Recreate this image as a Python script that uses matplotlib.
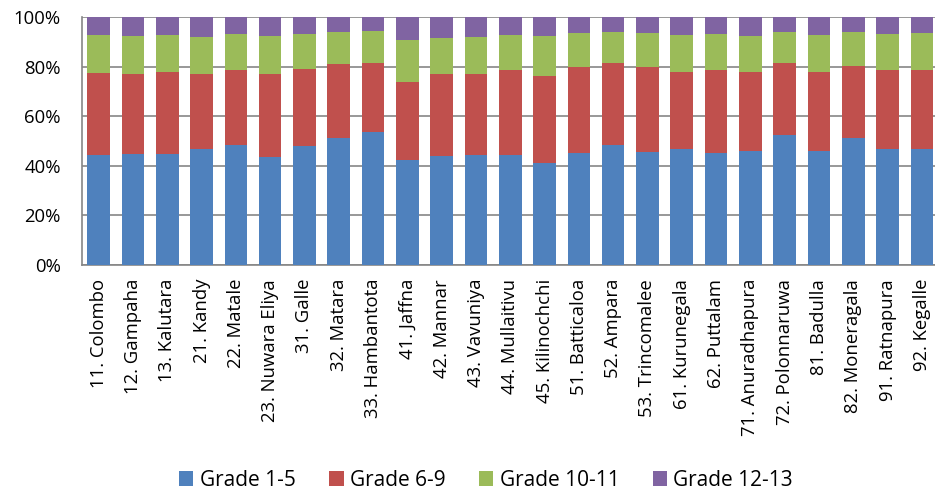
import matplotlib
matplotlib.use("Agg")
import matplotlib.pyplot as plt
import numpy as np

plt.rcParams['font.family'] = ['Open Sans', 'DejaVu Sans']

districts = ["11. Colombo", "12. Gampaha", "13. Kalutara", "21. Kandy", "22. Matale",
             "23. Nuwara Eliya", "31. Galle", "32. Matara", "33. Hambantota", "41. Jaffna",
             "42. Mannar", "43. Vavuniya", "44. Mullaitivu", "45. Kilinochchi", "51. Batticaloa",
             "52. Ampara", "53. Trincomalee", "61. Kurunegala", "62. Puttalam", "71. Anuradhapura",
             "72. Polonnaruwa", "81. Badulla", "82. Moneragala", "91. Ratnapura", "92. Kegalle"]

grade_1_5 = [44.3, 44.7, 44.7, 46.8, 48.4, 43.7, 47.9, 51.4, 53.6, 42.3,
             44.1, 44.3, 44.3, 41.0, 45.1, 48.3, 45.5, 46.8, 45.2, 46.2,
             52.3, 46.0, 51.1, 47.0, 47.0]
grade_6_9 = [33.2, 32.4, 33.3, 30.4, 30.5, 33.5, 31.2, 29.9, 28.1, 31.7,
             33.1, 32.8, 34.6, 35.3, 34.7, 33.1, 34.5, 31.2, 33.7, 31.8,
             29.4, 32.0, 29.4, 31.9, 31.9]
grade_10_11 = [15.4, 15.4, 14.9, 14.8, 14.2, 15.4, 14.3, 12.9, 12.8, 17.0,
               14.3, 14.9, 14.0, 16.3, 14.0, 12.5, 13.7, 14.7, 14.4, 14.4,
               12.5, 14.9, 13.4, 14.2, 14.8]
grade_12_13 = [7.1, 7.5, 7.1, 8.0, 6.9, 7.4, 6.6, 5.8, 5.5, 9.0,
               8.5, 8.0, 7.1, 7.4, 6.2, 6.1, 6.3, 7.3, 6.7, 7.6,
               5.8, 7.1, 6.1, 6.9, 6.3]

series = [("Grade 1-5", grade_1_5, "#4F81BD"),
          ("Grade 6-9", grade_6_9, "#C0504D"),
          ("Grade 10-11", grade_10_11, "#9BBB59"),
          ("Grade 12-13", grade_12_13, "#8064A2")]

fig = plt.figure(figsize=(9.35, 4.92), dpi=100)
ax = fig.add_axes([81.5 / 935, (492 - 265) / 492, (939 - 81.5) / 935, 247.7 / 492])

x = np.arange(len(districts))
bottom = np.zeros(len(districts))
for name, vals, col in series:
    v = np.array(vals)
    ax.bar(x, v, 0.66, bottom=bottom, color=col, label=name, zorder=3)
    bottom += v

ax.set_xlim(-0.5, len(districts) - 0.5)
ax.set_ylim(0, 100)
ax.set_yticks(np.arange(0, 101, 20))
ax.set_yticklabels([f"{t}%" for t in range(0, 101, 20)], fontsize=13.3)
ax.set_xticks(x)
ax.set_xticklabels(districts, rotation=90, fontsize=13.3)
ax.tick_params(axis='x', length=0, pad=10)
ax.tick_params(axis='y', length=0, pad=15)
ax.grid(axis='y', color='#868686', linewidth=1.2, zorder=0)
for s in ['top', 'right']:
    ax.spines[s].set_visible(False)
for s in ['left', 'bottom']:
    ax.spines[s].set_color('#868686')
    ax.spines[s].set_linewidth(1.2)

fig.legend(loc='center', bbox_to_anchor=(486 / 935, 1 - 480 / 492), ncol=4,
           frameon=False, fontsize=15, handlelength=0.7, handleheight=0.7,
           handletextpad=0.3, columnspacing=1.6, borderpad=0)

fig.savefig("out.png", dpi=100)
